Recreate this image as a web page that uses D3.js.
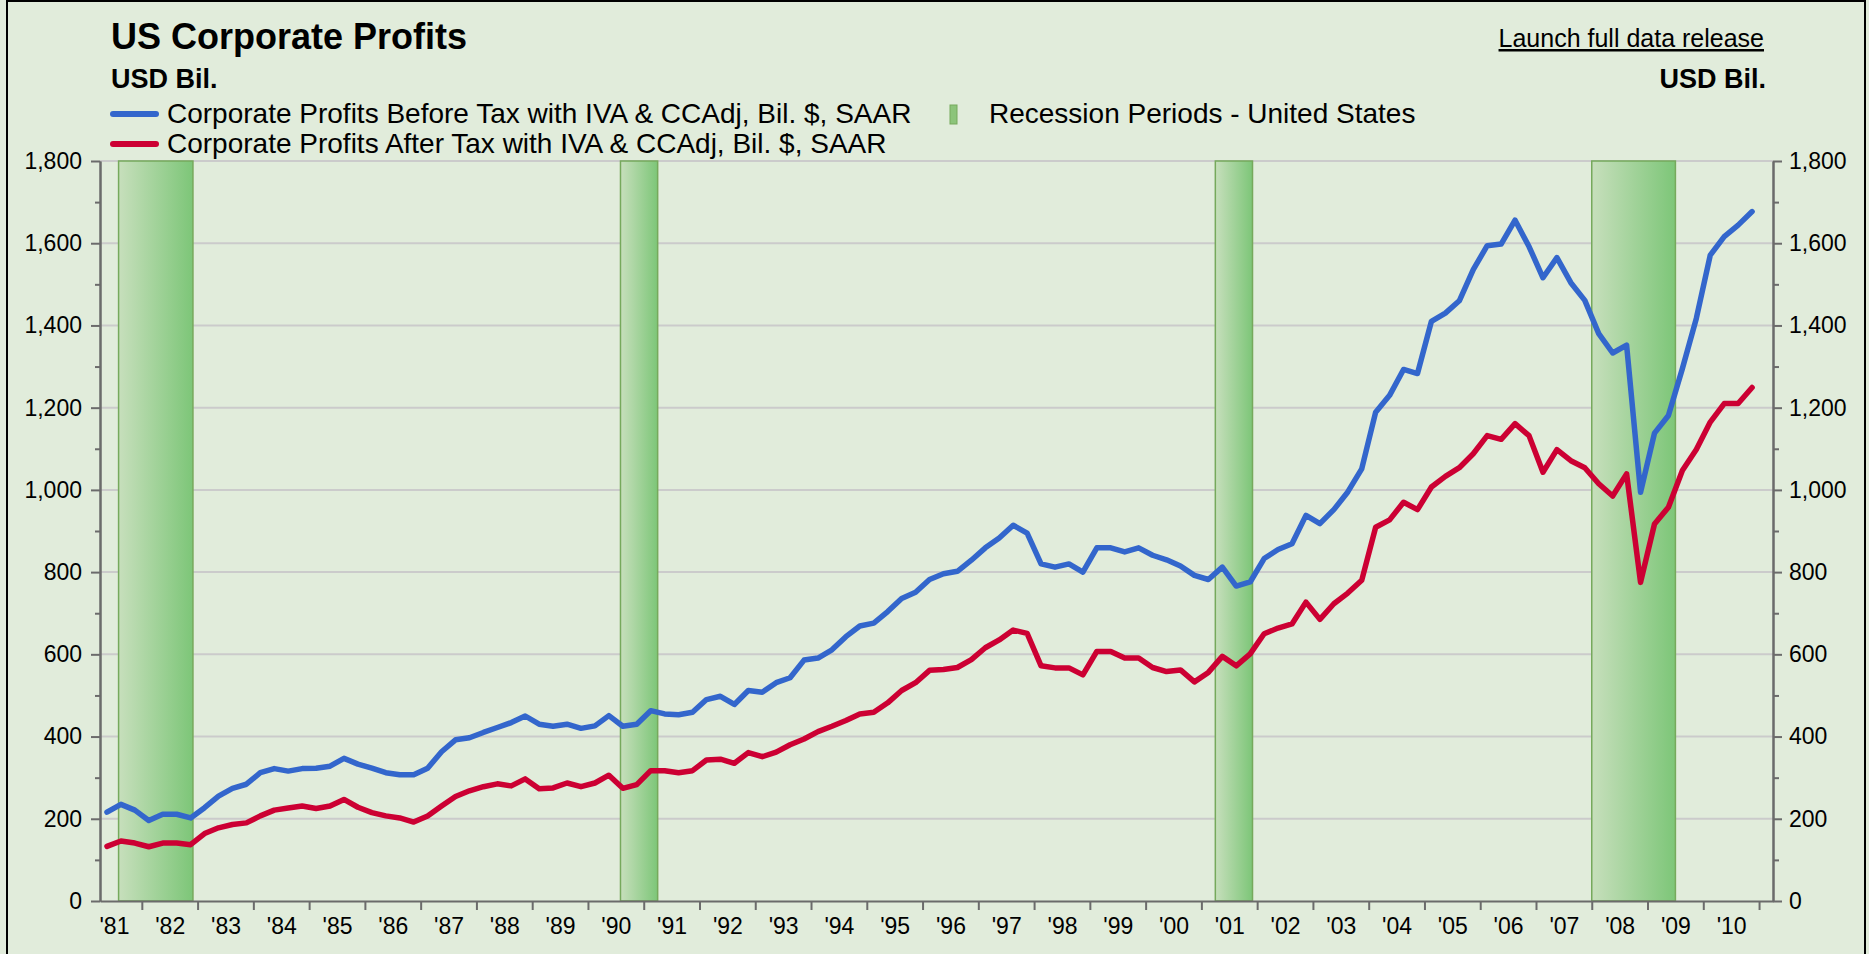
<!DOCTYPE html>
<html>
<head>
<meta charset="utf-8">
<script src="https://cdn.jsdelivr.net/npm/d3@7"></script>
<style>
  body { margin: 0; background: #e1ecdb; }
  svg { display: block; font-family: "Liberation Sans", Arial, sans-serif; }
  .axis path, .axis line { stroke: #6b6b6b; stroke-width: 2; }
  .axis text { font-size: 23px; fill: #000; }
</style>
</head>
<body>
<script>
// first quarter shown is 1981 Q2, one value per quarter up to 2010 Q4
var firstYear = 1981, firstQuarter = 2;

var beforeTax = [
  216, 235, 221, 196, 211, 211, 202, 227, 255, 274,
  284, 312, 322, 316, 322, 323, 328, 347, 333, 323,
  312, 307, 307, 323, 363, 392, 397, 410, 422, 434,
  450, 430, 425, 430, 420, 426, 451, 425, 430, 463,
  455, 453, 459, 490, 498, 478, 512, 508, 531, 543,
  586, 591, 611, 643, 669, 676, 704, 736, 751, 782,
  796, 802, 829, 859, 883, 914, 895, 820, 812, 820,
  800, 859, 859, 849, 859, 841, 830, 815, 792, 782,
  812, 766, 776, 833, 855, 869, 938, 918, 952, 995,
  1051, 1189, 1230, 1293, 1283, 1410, 1430, 1460, 1536, 1594,
  1598, 1656, 1592, 1516, 1565, 1504, 1461, 1380, 1333, 1352,
  994, 1138, 1181, 1295, 1417, 1571, 1616, 1644, 1677
];

var afterTax = [
  133, 146, 141, 132, 141, 141, 137, 164, 178, 186,
  190, 207, 221, 226, 231, 225, 231, 247, 228, 215,
  207, 202, 192, 207, 231, 254, 268, 278, 285, 280,
  297, 273, 275, 287, 278, 287, 306, 274, 283, 317,
  317, 312, 317, 343, 345, 335, 361, 351, 362, 380,
  394, 412, 425, 439, 455, 459, 482, 512, 531, 561,
  563, 568, 587, 616, 635, 659, 651, 572, 567, 567,
  550, 607, 607, 591, 591, 568, 558, 562, 533, 556,
  595, 572, 601, 650, 664, 674, 727, 685, 723, 749,
  780, 909, 927, 970, 952, 1007, 1033, 1054, 1088, 1132,
  1123, 1161, 1132, 1043, 1098, 1071, 1054, 1015, 985, 1039,
  775, 917, 958, 1047, 1098, 1165, 1210, 1210, 1249
];

// NBER recessions, [first month, last month]
var recessions = [
  ["1981-08", "1982-11"],
  ["1990-08", "1991-03"],
  ["2001-04", "2001-11"],
  ["2008-01", "2009-06"]
];

var yTicks = [0, 200, 400, 600, 800, 1000, 1200, 1400, 1600, 1800];
var yMinor = [100, 300, 500, 700, 900, 1100, 1300, 1500, 1700];
var years = d3.range(1981, 2011);

var seriesNames = [
  "Corporate Profits Before Tax with IVA & CCAdj, Bil. $, SAAR",
  "Corporate Profits After Tax with IVA & CCAdj, Bil. $, SAAR"
];
var seriesColors = ["#3366cc", "#cc0033"];

var W = 1869, H = 954;
var pLeft = 100, pRight = 1773, pTop = 161, pBottom = 901;

var svg = d3.select("body").append("svg")
    .attr("width", W)
    .attr("height", H);

var x = d3.scaleLinear().domain([1981.25, 2011.25]).range([pLeft, pRight]);
var y = d3.scaleLinear().domain([0, 1800]).range([pBottom, pTop]);

// decimal year for the middle of each quarter
function qTime(i) {
  var q = firstQuarter - 1 + i;
  return firstYear + Math.floor(q / 4) + (q % 4) * 0.25 + 0.125;
}
function monthStart(s) {
  var p = s.split("-");
  return +p[0] + (+p[1] - 1) / 12;
}
function monthEnd(s) {
  var p = s.split("-");
  return +p[0] + (+p[1]) / 12;
}

var defs = svg.append("defs");
var grad = defs.append("linearGradient")
    .attr("id", "recGrad")
    .attr("x1", "0%").attr("x2", "100%")
    .attr("y1", "0%").attr("y2", "0%");
grad.append("stop").attr("offset", "0%").attr("stop-color", "#c7dfbc");
grad.append("stop").attr("offset", "100%").attr("stop-color", "#7dc678");

// outer frame
svg.append("rect")
    .attr("x", 7).attr("y", 1)
    .attr("width", 1858).attr("height", 1000)
    .attr("fill", "#e1ecdb")
    .attr("stroke", "#000")
    .attr("stroke-width", 2);

// grid
svg.append("g")
  .selectAll("line")
  .data(yTicks.filter(function (d) { return d > 0; }))
  .enter()
  .append("line")
    .attr("x1", pLeft).attr("x2", pRight)
    .attr("y1", function (d) { return y(d); })
    .attr("y2", function (d) { return y(d); })
    .attr("stroke", "#cbcbcb")
    .attr("stroke-width", 2);

// recession bands
svg.append("g")
  .selectAll("rect")
  .data(recessions)
  .enter()
  .append("rect")
    .attr("x", function (d) { return x(monthStart(d[0])); })
    .attr("width", function (d) { return x(monthEnd(d[1])) - x(monthStart(d[0])); })
    .attr("y", pTop)
    .attr("height", pBottom - pTop)
    .attr("fill", "url(#recGrad)")
    .attr("stroke", "#76a95c")
    .attr("stroke-width", 1.5);

// axes
svg.append("g")
    .attr("class", "axis")
    .attr("transform", "translate(0," + pBottom + ")")
    .call(d3.axisBottom(x)
      .tickValues(d3.range(1982, 2012))
      .tickSize(9)
      .tickSizeOuter(0)
      .tickFormat(""));

var xLabels = svg.append("g")
    .attr("class", "axis")
    .attr("transform", "translate(0," + pBottom + ")")
    .call(d3.axisBottom(x)
      .tickValues(years.map(function (d) { return d + 0.5; }))
      .tickSize(0)
      .tickPadding(17)
      .tickFormat(function (d) { return "'" + String(Math.floor(d)).slice(2); }));
xLabels.select(".domain").remove();

var yl = svg.append("g")
    .attr("class", "axis")
    .attr("transform", "translate(" + pLeft + ",0)");
yl.call(d3.axisLeft(y).tickValues(yMinor).tickSize(5).tickSizeOuter(0).tickFormat(""));
yl.append("g").call(d3.axisLeft(y).tickValues(yTicks).tickSize(9).tickSizeOuter(0)
    .tickPadding(9).tickFormat(d3.format(",")));

var yr = svg.append("g")
    .attr("class", "axis")
    .attr("transform", "translate(" + pRight + ",0)");
yr.call(d3.axisRight(y).tickValues(yMinor).tickSize(6).tickSizeOuter(0).tickFormat(""));
yr.append("g").call(d3.axisRight(y).tickValues(yTicks).tickSize(9).tickSizeOuter(0)
    .tickPadding(7).tickFormat(d3.format(",")));

// lines
var line = d3.line()
    .x(function (d, i) { return x(qTime(i)); })
    .y(function (d) { return y(d); });

[beforeTax, afterTax].forEach(function (s, k) {
  svg.append("path")
      .datum(s)
      .attr("d", line)
      .attr("fill", "none")
      .attr("stroke", seriesColors[k])
      .attr("stroke-width", 5.5)
      .attr("stroke-linejoin", "round")
      .attr("stroke-linecap", "round");
});

// titles
svg.append("text")
    .attr("x", 111).attr("y", 49)
    .style("font-size", "36px").style("font-weight", "bold")
    .text("US Corporate Profits");
svg.append("text")
    .attr("x", 111).attr("y", 88)
    .style("font-size", "27px").style("font-weight", "bold")
    .text("USD Bil.");
svg.append("text")
    .attr("x", 1766).attr("y", 88)
    .attr("text-anchor", "end")
    .style("font-size", "27px").style("font-weight", "bold")
    .text("USD Bil.");
svg.append("text")
    .attr("x", 1764).attr("y", 47)
    .attr("text-anchor", "end")
    .style("font-size", "25px")
    .style("text-decoration", "underline")
    .text("Launch full data release");

// legend
var leg = svg.append("g");
seriesNames.forEach(function (name, k) {
  var ly = 114 + k * 30;
  leg.append("line")
      .attr("x1", 113).attr("x2", 156)
      .attr("y1", ly).attr("y2", ly)
      .attr("stroke", seriesColors[k])
      .attr("stroke-width", 6)
      .attr("stroke-linecap", "round");
  leg.append("text")
      .attr("x", 167).attr("y", ly + 9)
      .style("font-size", "28px")
      .text(name);
});
leg.append("rect")
    .attr("x", 950).attr("y", 105)
    .attr("width", 7).attr("height", 19)
    .attr("fill", "#8cc47a")
    .attr("stroke", "#76a95c");
leg.append("text")
    .attr("x", 989).attr("y", 123)
    .style("font-size", "28px")
    .text("Recession Periods - United States");
</script>
</body>
</html>
